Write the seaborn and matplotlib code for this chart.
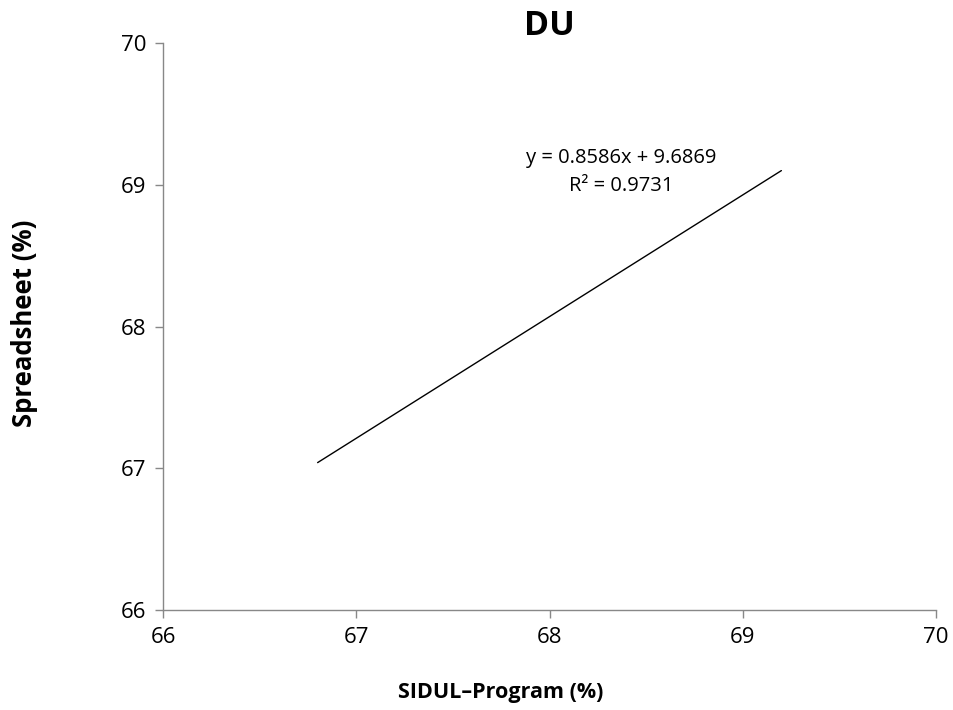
import matplotlib
matplotlib.use("Agg")
import matplotlib.pyplot as plt
import seaborn as sns

# trendline end points
x_line = [66.8, 69.2]
y_line = [67.04, 69.10]
eq_text = "y = 0.8586x + 9.6869\nR² = 0.9731"
ticks = [66, 67, 68, 69, 70]

sns.set_style("ticks")
plt.rcParams['font.family'] = ['Open Sans', 'DejaVu Sans']
plt.rcParams['text.color'] = "black"

fig = plt.figure(figsize=(9.54, 7.10), dpi=100)
ax = fig.add_axes([0.1709, 0.1408, 0.8102, 0.7986])

sns.lineplot(x=x_line, y=y_line, ax=ax, color="black", linewidth=1.0)

ax.set_xlim(66, 70)
ax.set_ylim(66, 70)
ax.set_xticks(ticks)
ax.set_yticks(ticks)
ax.tick_params(axis="both", labelsize=16, color="#888888", labelcolor="black",
               length=6, width=1, pad=6)
for s in ["top", "right"]:
    ax.spines[s].set_visible(False)
for s in ["left", "bottom"]:
    ax.spines[s].set_color("#888888")
    ax.spines[s].set_linewidth(1)

ax.text(68.37, 69.09, eq_text, ha="center", va="center", fontsize=14.5,
        linespacing=1.55, color="black")

fig.text(0.5755, 0.963, "DU", ha="center", va="center", fontsize=24.5,
         fontweight="bold", color="black")
fig.text(0.5245, 0.025, "SIDUL–Program (%)", ha="center", va="center",
         fontsize=15.5, fontweight="bold", color="black")
fig.text(0.026, 0.545, "Spreadsheet (%)", ha="center", va="center", rotation=90,
         fontsize=18.5, fontweight="bold", color="black")

fig.savefig("out.png", dpi=100)
